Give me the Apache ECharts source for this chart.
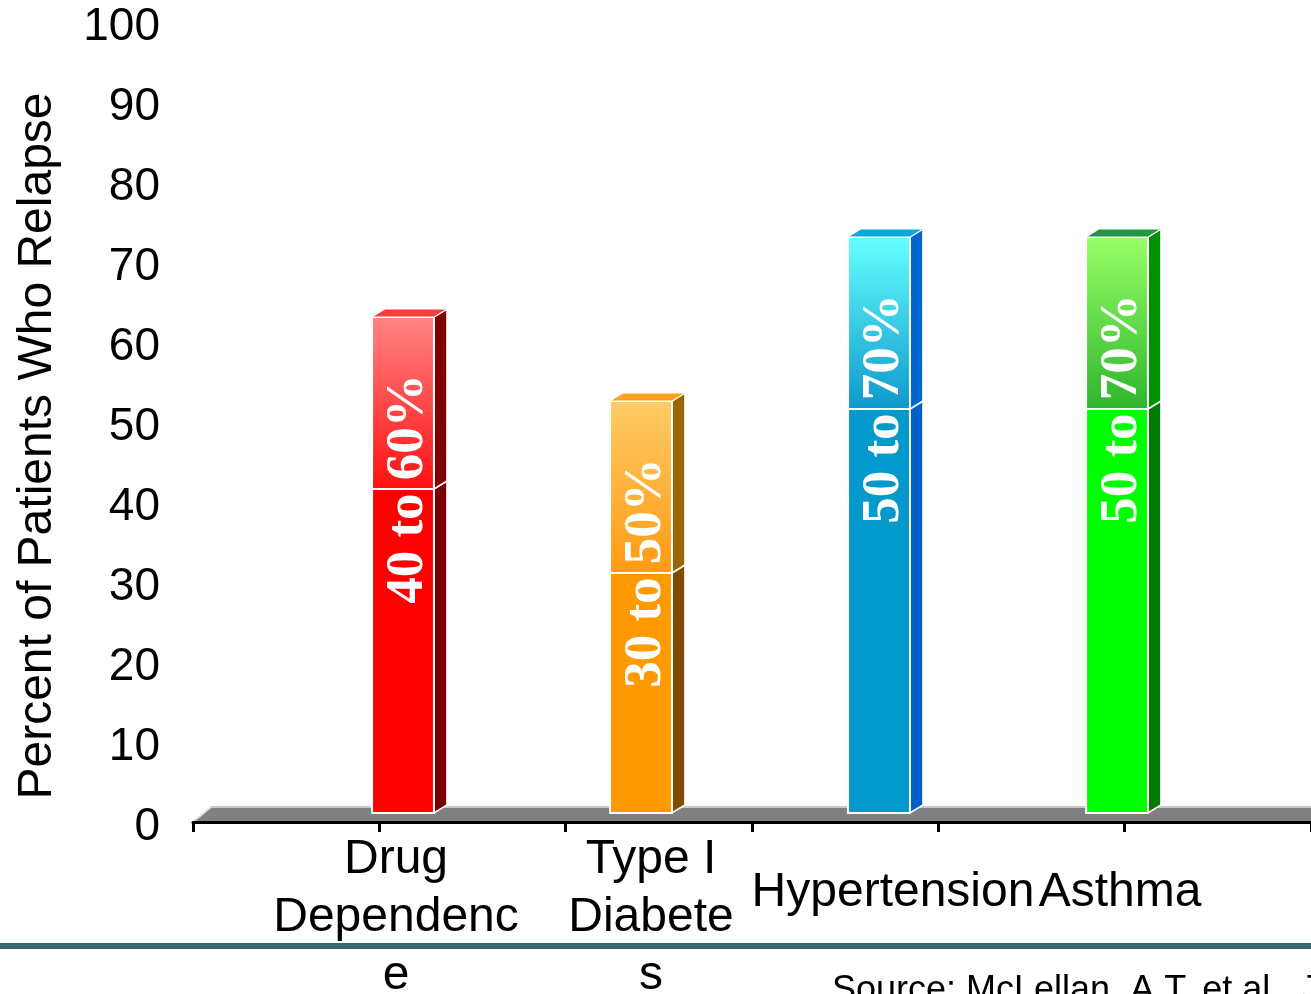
<!DOCTYPE html>
<html>
<head>
<meta charset="utf-8">
<script src="https://cdn.jsdelivr.net/npm/echarts@6/dist/echarts.min.js"></script>
<style>
html,body{margin:0;padding:0;background:#fff;}
#chart{width:1311px;height:994px;}
</style>
</head>
<body>
<div id="chart"></div>
<script>
// ---- data ----
const categories = ['Drug\nDependenc\ne', 'Type I\nDiabete\ns', 'Hypertension', 'Asthma'];
const lowerValues = [40.5, 30, 50.5, 50.5];
const upperValues = [21.5, 21.5, 21.5, 21.5];
const barLabels = ['40 to 60%', '30 to 50%', '50 to 70%', '50 to 70%'];
const yMin = 0, yMax = 100, yStep = 10;
const yTitle = 'Percent of Patients Who Relapse';
const sourceText = 'Source: McLellan, A.T. et al., JAMA, 2000.';

// ---- styles ----
const palette = [
  {lower:'#FF0000', upTop:'#FF8484', upBot:'#FF1010', side:'#800000', sideLow:'#780000', top:'#FF3A3A'},
  {lower:'#FF9900', upTop:'#FFCC66', upBot:'#FF9A12', side:'#996600', sideLow:'#7F4C00', top:'#FF9E22'},
  {lower:'#0399CC', upTop:'#66FFFF', upBot:'#0E98CC', side:'#0066CC', sideLow:'#0060C8', top:'#00AADD'},
  {lower:'#00FF00', upTop:'#99FF66', upBot:'#2DB52D', side:'#009100', sideLow:'#007A00', top:'#1F9A3A'}
];
// horizontal nudges of category labels (px), style only
const labelShift = [-7, 10, 14, 3];

const chart = echarts.init(document.getElementById('chart'), null, {renderer:'canvas'});

const lowerData = categories.map((c, i) => [i, 0, lowerValues[i]]);
const upperData = categories.map((c, i) => [i, lowerValues[i], lowerValues[i] + upperValues[i]]);

function makeRender(isUpper) {
  return function (params, api) {
    const i = api.value(0);
    const p0 = api.coord([i, api.value(1)]);
    const p1 = api.coord([i, api.value(2)]);
    const band = api.size([1, 0])[0];
    const w = band * 0.26;
    const dx = 13, dy = 8;
    const xl = p0[0] - w / 2, xr = p0[0] + w / 2;
    const y0 = p0[1], y1 = p1[1];
    const col = palette[i];
    const children = [];
    children.push({
      type: 'polygon',
      shape: {points: [[xr, y1], [xr + dx, y1 - dy], [xr + dx, y0 - dy], [xr, y0]]},
      style: {fill: isUpper ? col.side : col.sideLow, stroke: '#ffffff', lineWidth: 1.5}
    });
    children.push({
      type: 'rect',
      shape: {x: xl, y: y1, width: w, height: y0 - y1},
      style: {
        fill: isUpper ? new echarts.graphic.LinearGradient(0, 0, 0, 1, [
          {offset: 0, color: col.upTop}, {offset: 1, color: col.upBot}
        ]) : col.lower,
        stroke: '#ffffff', lineWidth: 2
      }
    });
    if (isUpper) {
      children.push({
        type: 'polygon',
        shape: {points: [[xl, y1], [xl + dx, y1 - dy], [xr + dx, y1 - dy], [xr, y1]]},
        style: {fill: col.top, stroke: '#ffffff', lineWidth: 1}
      });
      children.push({
        type: 'text',
        x: p0[0] + 5, y: y0,
        rotation: Math.PI / 2,
        style: {
          text: barLabels[i], fill: '#ffffff',
          font: 'bold 53px "Liberation Serif", "Times New Roman", serif',
          align: 'center', verticalAlign: 'middle'
        }
      });
    }
    return {type: 'group', children: children};
  };
}

const FONT = '"Liberation Sans", Arial, sans-serif';
const rich = {};
labelShift.forEach((s, i) => {
  const pad = s >= 0 ? [0, 0, 0, 2 * s] : [0, -2 * s, 0, 0];
  rich['m' + i] = {fontFamily: FONT, fontSize: 48, lineHeight: 58, color: '#000', padding: pad};
  rich['s' + i] = {fontFamily: FONT, fontSize: 48, lineHeight: 58, color: '#000', padding: [66, pad[1], 0, pad[3]]};
});

const option = {
  backgroundColor: '#ffffff',
  animation: false,
  grid: [
    {left: 193, right: 0, top: 27, height: 800, outerBoundsMode: 'none', containLabel: false},
    {left: 284, width: 952, top: 13, height: 800, outerBoundsMode: 'none', containLabel: false}
  ],
  xAxis: [
    {
      gridIndex: 0, type: 'value', min: 0, max: 6, interval: 1, offset: -5,
      axisLine: {show: true, lineStyle: {color: '#000', width: 3}},
      axisTick: {show: true, length: 10, lineStyle: {color: '#000', width: 3}},
      axisLabel: {show: false}, splitLine: {show: false}
    },
    {
      gridIndex: 1, type: 'category', data: categories,
      axisLine: {show: false}, axisTick: {show: false},
      axisLabel: {
        show: true, interval: 0, margin: 18,
        fontFamily: FONT, fontSize: 48, lineHeight: 58, color: '#000',
        formatter: function (v, idx) {
          if (v.indexOf('\n') < 0) return '{s' + idx + '|' + v + '}';
          return v.split('\n').map(t => '{m' + idx + '|' + t + '}').join('\n');
        },
        rich: rich
      }
    }
  ],
  yAxis: [
    {
      gridIndex: 0, type: 'value', min: yMin, max: yMax, interval: yStep,
      axisLine: {show: false}, axisTick: {show: false}, splitLine: {show: false},
      axisLabel: {margin: 33, fontFamily: FONT, fontSize: 46, color: '#000'}
    },
    {
      gridIndex: 1, type: 'value', min: yMin, max: yMax, show: false
    }
  ],
  graphic: [
    {type: 'polygon', z: 0, shape: {points: [[194, 821], [211, 807], [1311, 807], [1311, 821]]}, style: {fill: '#808080'}},
    {type: 'line', z: 0, shape: {x1: 211, y1: 807, x2: 1311, y2: 807}, style: {stroke: '#C8C8C8', lineWidth: 2}},
    {type: 'line', z: 0, shape: {x1: 194, y1: 821, x2: 211, y2: 807}, style: {stroke: '#E0E0E0', lineWidth: 2}},
    {type: 'rect', shape: {x: 0, y: 943, width: 1311, height: 6}, style: {fill: '#376969'}},
    {
      type: 'text', x: 38, y: 446, rotation: Math.PI / 2,
      style: {text: yTitle, font: '48px ' + FONT, fill: '#000', align: 'center', verticalAlign: 'middle'}
    },
    {
      type: 'text', x: 832, y: 973,
      style: {text: sourceText, font: '36px ' + FONT, fill: '#000', align: 'left', verticalAlign: 'top'}
    }
  ],
  series: [
    {type: 'custom', xAxisIndex: 1, yAxisIndex: 1, z: 5, renderItem: makeRender(false), data: lowerData},
    {type: 'custom', xAxisIndex: 1, yAxisIndex: 1, z: 6, renderItem: makeRender(true), data: upperData}
  ]
};
chart.setOption(option);
</script>
</body>
</html>
